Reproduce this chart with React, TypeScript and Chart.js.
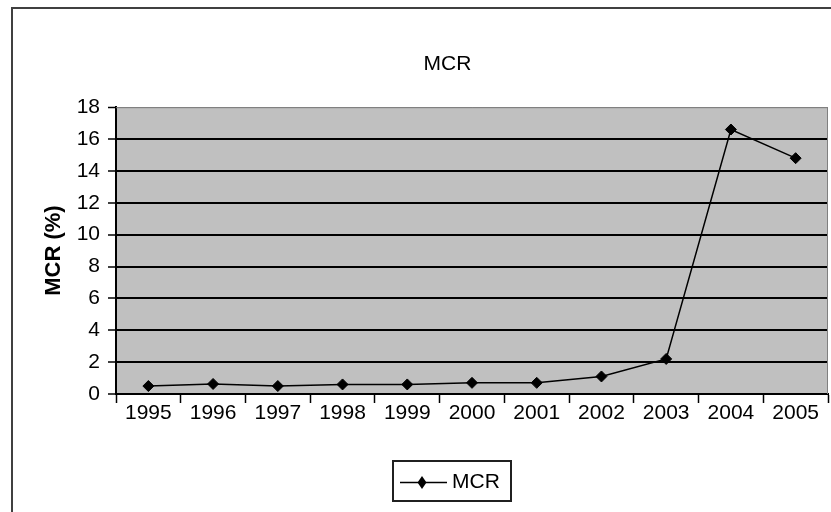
import React, { useEffect, useRef } from "react";
import { Chart, registerables } from "chart.js";

Chart.register(...registerables);

const years: string[] = ["1995", "1996", "1997", "1998", "1999", "2000", "2001", "2002", "2003", "2004", "2005"];
const mcrValues: number[] = [0.5, 0.63, 0.5, 0.6, 0.6, 0.7, 0.7, 1.1, 2.2, 16.6, 14.8];
const seriesLabel = "MCR";
const chartTitle = "MCR";
const yAxisTitle = "MCR (%)";
const yMin = 0;
const yMax = 18;
const yStep = 2;

const FONT = "'Liberation Sans', Arial, sans-serif";
const W = 895;
const H = 540;

const framePlugin = {
  id: "frame",
  beforeDraw(chart: any) {
    const ctx = chart.ctx;
    const a = chart.chartArea;
    ctx.save();
    ctx.fillStyle = "#ffffff";
    ctx.fillRect(0, 0, chart.width, chart.height);
    ctx.strokeStyle = "#404040";
    ctx.lineWidth = 2;
    ctx.strokeRect(12, 8, chart.width - 24, chart.height - 16);
    ctx.fillStyle = "#c0c0c0";
    ctx.fillRect(a.left, a.top, a.right - a.left, a.bottom - a.top);
    ctx.restore();
  },
  afterDatasetsDraw(chart: any) {
    const ctx = chart.ctx;
    const a = chart.chartArea;
    ctx.save();
    ctx.strokeStyle = "#808080";
    ctx.lineWidth = 1;
    ctx.beginPath();
    ctx.moveTo(a.left, a.top + 0.5);
    ctx.lineTo(a.right - 0.5, a.top + 0.5);
    ctx.lineTo(a.right - 0.5, a.bottom);
    ctx.stroke();
    ctx.restore();
  },
  afterDraw(chart: any) {
    const ctx = chart.ctx;
    const label = chart.data.datasets[0].label;
    const cx = chart.width / 2 + 4.5;
    const bw = 120;
    const bh = 42;
    const bx = Math.round(cx - bw / 2);
    const by = 460;
    ctx.save();
    ctx.strokeStyle = "#202020";
    ctx.lineWidth = 2;
    ctx.strokeRect(bx + 1, by + 1, bw - 2, bh - 2);
    const ly = by + 22.5;
    ctx.strokeStyle = "#000";
    ctx.lineWidth = 1.5;
    ctx.beginPath();
    ctx.moveTo(bx + 8, ly);
    ctx.lineTo(bx + 55, ly);
    ctx.stroke();
    const mx = bx + 30;
    const rx = 4.5;
    const ry = 6.5;
    ctx.fillStyle = "#000";
    ctx.beginPath();
    ctx.moveTo(mx, ly - ry);
    ctx.lineTo(mx + rx, ly);
    ctx.lineTo(mx, ly + ry);
    ctx.lineTo(mx - rx, ly);
    ctx.closePath();
    ctx.fill();
    ctx.font = `21px ${FONT}`;
    ctx.textBaseline = "middle";
    ctx.textAlign = "left";
    ctx.fillText(label, bx + 60, ly);
    ctx.restore();
  },
};

export default function App() {
  const ref = useRef<HTMLCanvasElement | null>(null);

  useEffect(() => {
    if (!ref.current) return;
    const chart = new Chart(ref.current, {
      type: "line",
      data: {
        labels: years,
        datasets: [
          {
            label: seriesLabel,
            data: mcrValues,
            borderColor: "#000",
            borderWidth: 1.5,
            pointStyle: "rectRot",
            pointRadius: 5.5,
            pointBackgroundColor: "#000",
            pointBorderColor: "#000",
            pointBorderWidth: 1,
            tension: 0,
            yAxisID: "y",
          },
        ],
      },
      options: {
        responsive: false,
        animation: false,
        devicePixelRatio: 1,
        layout: { padding: { left: 14, right: 14, top: 10, bottom: 86 } },
        plugins: {
          legend: { display: false },
          tooltip: { enabled: false },
          title: {
            display: true,
            text: chartTitle,
            color: "#000",
            font: { family: FONT, size: 21, weight: "normal", lineHeight: 1.2 },
            padding: { top: 42, bottom: 30 },
          },
        },
        scales: {
          x: {
            type: "category",
            offset: true,
            grid: {
              display: true,
              offset: true,
              drawOnChartArea: false,
              drawTicks: true,
              tickLength: 9,
              tickColor: "#000",
              tickWidth: 1.5,
            },
            border: { display: true, color: "#000", width: 2 },
            ticks: {
              color: "#000",
              font: { family: FONT, size: 21, lineHeight: 1 },
              padding: 0,
              maxRotation: 0,
              autoSkip: false,
            },
            afterFit: (s: any) => {
              s.height = 60;
            },
          },
          y: {
            type: "linear",
            position: "left",
            min: yMin,
            max: yMax,
            ticks: {
              stepSize: yStep,
              color: "#000",
              font: { family: FONT, size: 21 },
              padding: 8,
            },
            grid: {
              color: (c: any) => (c.tick && c.tick.value === yMax ? "#808080" : "#000"),
              lineWidth: (c: any) => (c.tick && c.tick.value === yMax ? 1 : 2),
              tickColor: "#000",
              tickLength: 8,
              tickWidth: 1.5,
            },
            border: { display: true, color: "#000", width: 2 },
            title: {
              display: true,
              text: yAxisTitle,
              color: "#000",
              font: { family: FONT, size: 22, weight: "bold", lineHeight: 1.2 },
              padding: { top: 27, bottom: 0 },
            },
            afterFit: (s: any) => {
              s.width = 102;
            },
          },
          y2: {
            type: "linear",
            position: "right",
            display: true,
            grid: { display: false },
            border: { display: false },
            ticks: { display: false },
            afterFit: (s: any) => {
              s.width = 53;
            },
          },
        },
      },
      plugins: [framePlugin],
    } as any);
    return () => chart.destroy();
  }, []);

  return (
    <div
      style={{
        position: "fixed",
        left: 0,
        top: 0,
        width: 831,
        height: 512,
        overflow: "hidden",
        background: "#fff",
      }}
    >
      <canvas ref={ref} width={W} height={H} style={{ display: "block", width: W, height: H }} />
    </div>
  );
}
